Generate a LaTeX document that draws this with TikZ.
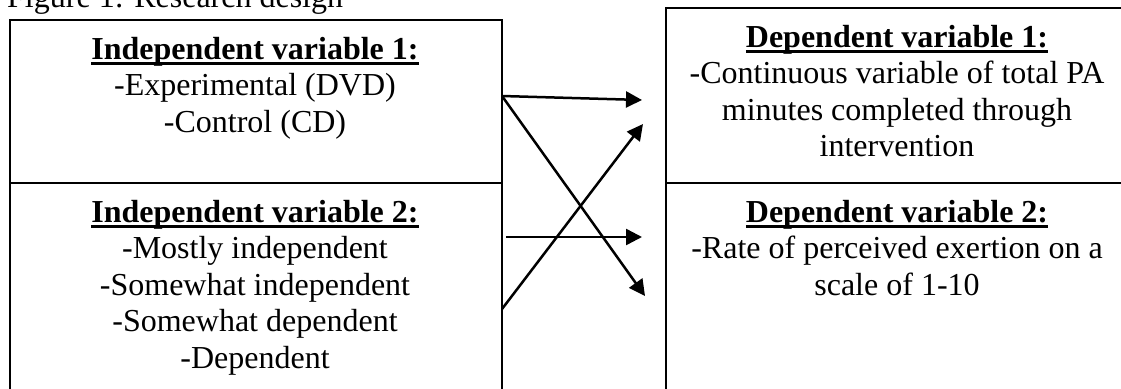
\documentclass[tikz,border=0pt]{standalone}
\usepackage{fontspec}
\setmainfont{Liberation Serif}
\usetikzlibrary{arrows.meta}
\newcommand\myul[1]{\setbox0\hbox{#1}\rlap{\rule[-6pt]{\wd0}{2.7pt}}\box0}
\tikzset{
  box/.style={draw, line width=2.4pt, rectangle, anchor=north west, inner sep=0pt},
  txt/.style={anchor=base, inner sep=0pt, font=\fontsize{32}{36.5}\selectfont},
  conn/.style={line width=2.5pt, -{Triangle[length=16pt,width=16pt]}}
}
\begin{document}
\begin{tikzpicture}[x=1pt,y=-1pt]
\useasboundingbox (0,0) rectangle (1121,388);
\clip (0,0) rectangle (1121,388);
% boxes
\node[box, minimum width=492pt, minimum height=163pt] (iv1) at (9,19) {};
\node[box, minimum width=492pt, minimum height=250pt] (iv2) at (9,182) {};
\node[box, minimum width=464pt, minimum height=175pt] (dv1) at (665,7) {};
\node[box, minimum width=464pt, minimum height=250pt] (dv2) at (665,182) {};
% title
\node[anchor=base west, inner sep=0pt, font=\fontsize{32}{36.5}\selectfont] (title) at (7,7) {Figure 1: Research design};
% texts
\node[txt] (t1) at (255,59) {\begin{tabular}[t]{@{}c@{}}\myul{\textbf{Independent variable 1:}}\\-Experimental (DVD)\\-Control (CD)\end{tabular}};
\node[txt] (t2) at (255,222) {\begin{tabular}[t]{@{}c@{}}\myul{\textbf{Independent variable 2:}}\\-Mostly independent\\-Somewhat independent\\-Somewhat dependent\\-Dependent\end{tabular}};
\node[txt] (t3) at (897,47) {\begin{tabular}[t]{@{}c@{}}\myul{\textbf{Dependent variable 1:}}\\-Continuous variable of total PA\\minutes completed through\\intervention\end{tabular}};
\node[txt] (t4) at (897,222) {\begin{tabular}[t]{@{}c@{}}\myul{\textbf{Dependent variable 2:}}\\-Rate of perceived exertion on a\\scale of 1-10\end{tabular}};
% connector endpoints
\coordinate (s1) at (502,96);
\coordinate (s2) at (502,309);
\coordinate (s3) at (506,237);
\coordinate (e1) at (642,100);
\coordinate (e2) at (645,296);
\coordinate (e3) at (643,124);
\coordinate (e4) at (642,237);
\draw[conn] (s1) -- (e1);
\draw[conn] (s1) -- (e2);
\draw[conn] (s2) -- (e3);
\draw[conn] (s3) -- (e4);
\end{tikzpicture}
\end{document}
